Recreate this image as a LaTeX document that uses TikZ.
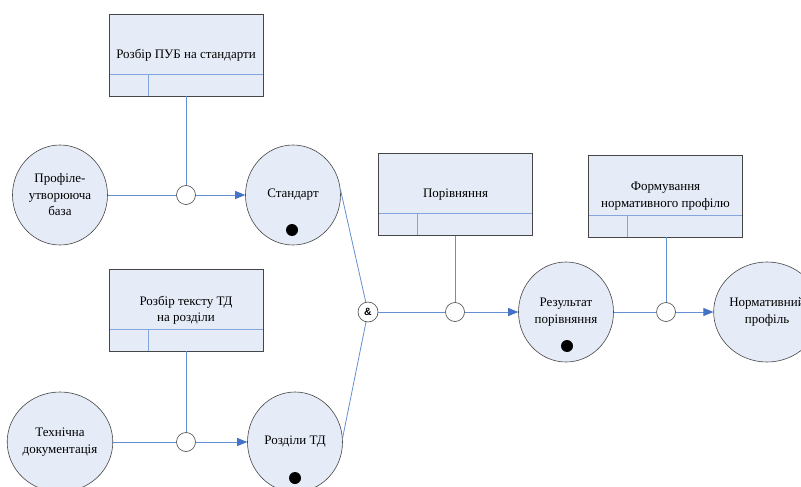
\documentclass[tikz,border=0pt]{standalone}
\usepackage{fontspec}
\setmainfont{Liberation Serif}
\newfontfamily\andfont{Liberation Sans}
\usetikzlibrary{arrows.meta,calc,shapes.geometric}
\definecolor{fillblue}{RGB}{230,236,247}
\definecolor{linkblue}{RGB}{100,143,210}
\definecolor{tipblue}{RGB}{68,114,196}
\definecolor{edgegray}{RGB}{70,70,70}
\definecolor{divblue}{RGB}{130,166,222}

\begin{document}
\begin{tikzpicture}[x=1pt,y=-1pt,
  font=\fontsize{13}{16.5}\selectfont,
  state/.style={ellipse, draw=edgegray, line width=0.6pt, fill=fillblue,
    minimum width=95pt, minimum height=100pt, inner sep=0pt, align=center},
  actbox/.style={rectangle, draw=edgegray, line width=0.9pt, fill=fillblue,
    minimum width=154pt, minimum height=82pt, inner sep=0pt, align=center,
    path picture={
      \draw[divblue, line width=0.9pt]
        ([yshift=22pt]path picture bounding box.south west) --
        ([yshift=22pt]path picture bounding box.south east);
      \draw[divblue, line width=0.9pt]
        ([xshift=39pt,yshift=22pt]path picture bounding box.south west) --
        ([xshift=39pt]path picture bounding box.south west);
    }},
  junc/.style={circle, draw=edgegray, line width=0.6pt, fill=white,
    minimum size=19pt, inner sep=0pt},
  andjunc/.style={junc, minimum size=20pt, font=\andfont\fontsize{10.5}{12}\selectfont\bfseries},
  token/.style={circle, fill=black, minimum size=12pt, inner sep=0pt},
  link/.style={draw=linkblue, line width=0.8pt},
  flow/.style={link, -{Triangle[length=10pt,width=8pt,color=tipblue]}}
]
\clip (0,0) rectangle (801,487);
\fill[white] (0,0) rectangle (801,487);

% activity boxes
\node[actbox] (boxpub) at (186,55)  {Розбір ПУБ на стандарти};
\node[actbox] (boxtd)  at (186,310) {Розбір тексту ТД\\на розділи};
\node[actbox] (boxcmp) at (455.5,194.5) {Порівняння};
\node[actbox] (boxform) at (665.5,196) {Формування\\нормативного профілю};

% states
\node[state] (base)  at (60,195)  {Профіле-\\утворююча\\база};
\node[state] (std)   at (293,195) {Стандарт};
\node[state] (doc)   at (60,442)  {Технічна\\документація};
\node[state] (parts) at (295,442) {Розділи ТД};
\node[state] (res)   at (566,312) {Результат\\порівняння};
\node[state] (norm)  at (767,312) {Нормативний\\профіль};

% markers inside states
\node[token] (tstd)   at (292,230) {};
\node[token] (tparts) at (295,478) {};
\node[token] (tres)   at (567,346) {};

% junctions
\node[junc] (j1) at (186,195) {};
\node[junc] (j2) at (186,442) {};
\node[junc] (j3) at (455,312) {};
\node[junc] (j4) at (666,312) {};
\node[andjunc] (amp) at (368,312) {\&};

% control lines
\draw[link] (boxpub.south) -- (j1.north);
\draw[link] (boxtd.south) -- (j2.north);
\draw[link] (boxcmp.south -| j3) -- (j3.north);
\draw[link] (boxform.south -| j4) -- (j4.north);

% flows
\draw[link] (base.east) -- (j1.west);
\draw[flow] (j1.east) -- (std.west);
\draw[link] (doc.east) -- (j2.west);
\draw[flow] (j2.east) -- (parts.west);
\draw[link] (std.6) -- (amp);
\draw[link] (parts.5) -- (amp);
\draw[link] (amp.east) -- (j3.west);
\draw[flow] (j3.east) -- (res.west);
\draw[link] (res.east) -- (j4.west);
\draw[flow] (j4.east) -- (norm.west);
\end{tikzpicture}
\end{document}
